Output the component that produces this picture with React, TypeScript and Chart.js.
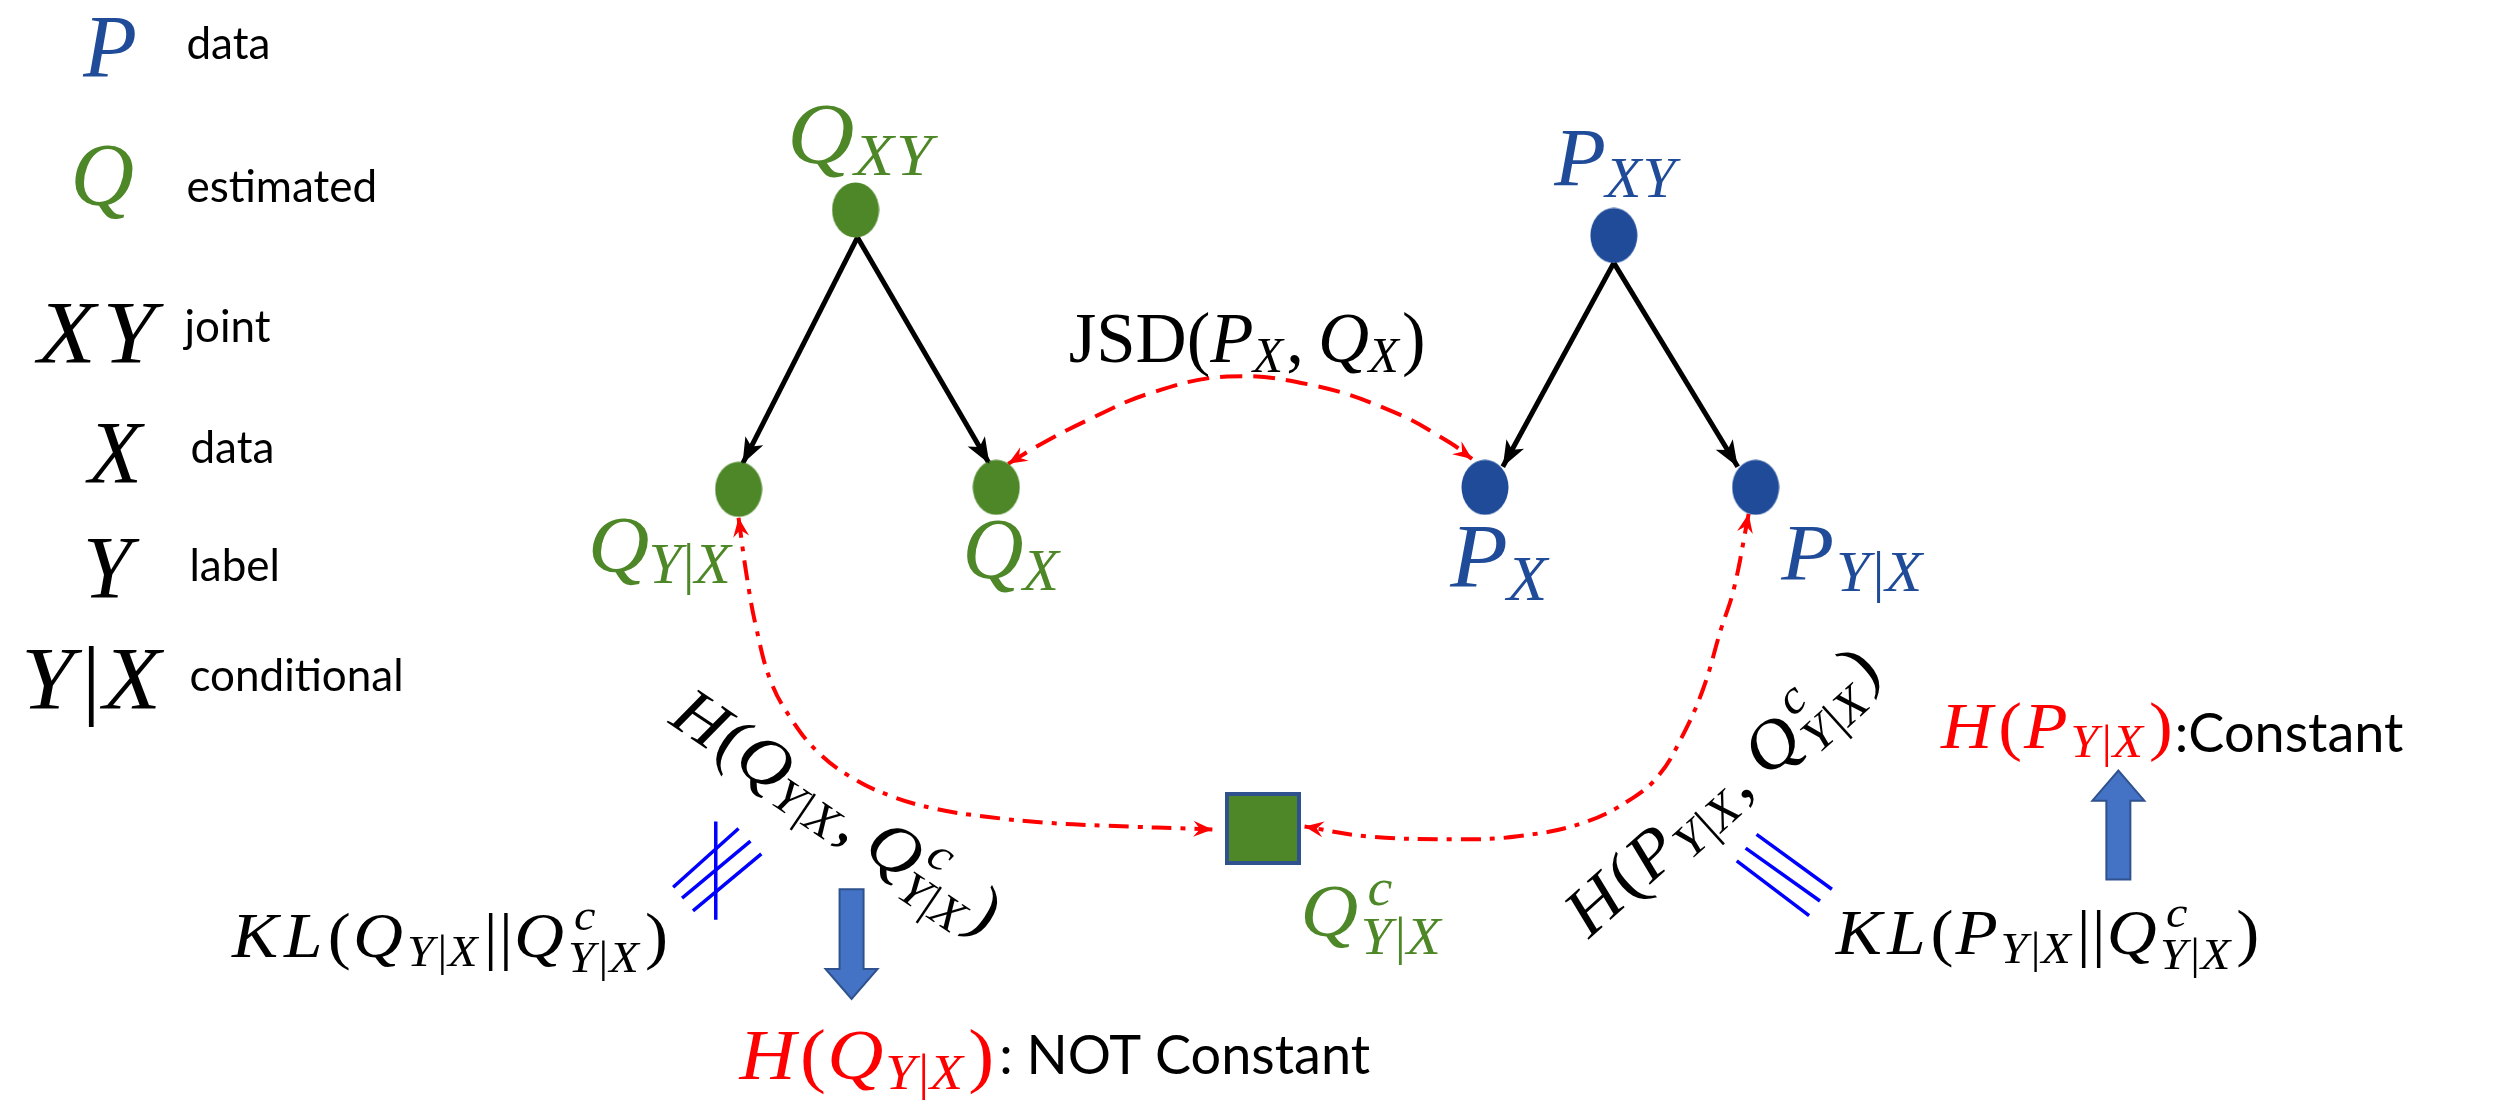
import React, { useEffect, useRef } from "react";
import { Chart, registerables } from "chart.js";

Chart.register(...registerables);

const CANVAS_W = 2509;
const CANVAS_H = 1110;

const GREEN = "#4E8727";
const BLUE = "#1F4B99";
const RED = "#FF0000";
const ARROW_FILL = "#4472C4";
const ARROW_EDGE = "#2F528F";

// ---- graph nodes (data coordinates of the diagram) ----
const nodeNames = ["Q_XY", "P_XY", "Q_Y|X", "Q_X", "P_X", "P_Y|X"];
const nodeX = [852, 1617, 734, 994, 1487, 1760];
const nodeY = [203, 229, 488, 486, 486, 486];
const nodeIsQ = [true, false, true, true, false, false];

const squareX = [1263];
const squareY = [834];

// ---- black arrows (parent -> child) ----
const edgeFromX = [854, 854, 1617, 1617];
const edgeFromY = [231, 231, 257, 257];
const edgeToX = [738, 987, 1505, 1742];
const edgeToY = [462, 462, 465, 465];

// ---- red curves ----
const jsdX = [1006, 1037, 1087, 1149, 1227, 1314, 1397, 1451, 1474];
const jsdY = [462, 443, 417, 390, 373, 382, 410, 440, 457];

const crossQX = [734, 742, 752, 767, 789, 815, 848, 888, 933, 984, 1043, 1100, 1212];
const crossQY = [517, 575, 630, 685, 725, 757, 782, 801, 814, 822, 828, 831, 835];

const crossPX = [1753, 1738, 1725, 1707, 1685, 1663, 1636, 1587, 1520, 1457, 1368, 1305];
const crossPY = [513, 590, 631, 692, 742, 779, 803, 828, 842, 845, 842, 832];

// ---- blue "not equal" / "equivalent" marks ----
const neqX1 = [711, 668, 677, 688];
const neqY1 = [827, 894, 905, 918];
const neqX2 = [711, 734, 746, 757];
const neqY2 = [927, 834, 847, 860];

const eqX1 = [1761, 1750, 1741];
const eqY1 = [840, 854, 867];
const eqX2 = [1837, 1825, 1814];
const eqY2 = [896, 908, 923];

// ---- block arrows ----
const blockX = [848, 2126];
const blockTail = [896, 886];
const blockTip = [1008, 775];

// ---- legend ----
const legendSymbols = ["P", "Q", "XY", "X", "Y", "Y|X"];
const legendSymbolColors = [BLUE, GREEN, "#000", "#000", "#000", "#000"];
const legendSymbolX = [101, 93, 27, 106, 98, 10];
const legendSymbolY = [66, 197, 358, 481, 598, 711];
const legendSymbolW = [0, 0, 125, 0, 0, 150];
const legendWords = ["data", "estimated", "joint", "data", "label", "conditional"];
const legendWordX = [177, 177, 175, 181, 180, 180];
const legendWordY = [49, 195, 338, 461, 582, 694];

// ---- math labels ----
const mathSrc = [
  "Q_{XY}", "P_{XY}", "Q_{Y|X}", "Q_X", "P_X", "P_{Y|X}", "Q^c_{Y|X}",
  "\\rm{JSD}(P_X, Q_X)",
  "H(Q_{Y|X}, Q^c_{Y|X})", "H(P_{Y|X}, Q^c_{Y|X})",
  "KL(Q_{Y|X}||Q^c_{Y|X})", "KL(P_{Y|X}||Q^c_{Y|X})",
  "H(Q_{Y|X})", "H(P_{Y|X})",
];
const mathX = [783, 1557, 582, 960, 1452, 1786, 1301, 1067, 662, 1592, 223, 1841, 735, 1947];
const mathY = [155, 178, 572, 578, 588, 580, 944, 358, 726, 947, 965, 962, 1090, 752];
const mathSize = [86, 82, 80, 86, 90, 80, 74, 72, 68, 68, 64, 64, 72, 66];
const mathW = [151, 126, 148, 101, 102, 148, 147, 360, 385, 400, 442, 429, 258, 236];
const mathAngle = [0, 0, 0, 0, 0, 0, 0, 0, 34, -42, 0, 0, 0, 0];
const mathColor = [GREEN, BLUE, GREEN, GREEN, BLUE, BLUE, GREEN, "#000", "#000", "#000", "#000", "#000", RED, RED];

const sansText = [": NOT Constant", ":Constant"];
const sansAfter = [12, 13]; // index of the math label it follows
const sansGap = [4, 0];
const sansY = [1084, 756];

type Glyph = { t: string; font: string; x: number; y: number };

const serif = (italic: boolean, size: number) =>
  `${italic ? "italic " : ""}${size}px "Liberation Serif"`;

function layoutMath(ctx: CanvasRenderingContext2D, src: string, F: number) {
  const glyphs: Glyph[] = [];
  let x = 0;
  let i = 0;
  let lastItalic = false;
  const readGroup = (): string => {
    if (src[i] === "{") {
      const j = src.indexOf("}", i);
      const g = src.slice(i + 1, j);
      i = j + 1;
      return g;
    }
    const c = src[i];
    i++;
    return c;
  };
  const run = (s: string, size: number, x0: number, y0: number) => {
    let xx = x0;
    for (const ch of s) {
      const it = /[A-Za-z]/.test(ch);
      const font = serif(it, size);
      ctx.font = font;
      glyphs.push({ t: ch, font, x: xx, y: y0 });
      xx += ctx.measureText(ch).width + (it ? 0.02 * size : 0);
    }
    return xx - x0;
  };
  while (i < src.length) {
    const c = src[i];
    if (c === "\\") {
      const j = src.indexOf("{", i);
      const k = src.indexOf("}", j);
      const txt = src.slice(j + 1, k);
      i = k + 1;
      const font = serif(false, F);
      ctx.font = font;
      glyphs.push({ t: txt, font, x, y: 0 });
      x += ctx.measureText(txt).width;
      lastItalic = false;
    } else if (c === "_" || c === "^") {
      let sub: string | null = null;
      let sup: string | null = null;
      while (i < src.length && (src[i] === "_" || src[i] === "^")) {
        const k = src[i];
        i++;
        const g = readGroup();
        if (k === "_") sub = g;
        else sup = g;
      }
      const s = 0.7 * F;
      let w = 0;
      if (sup) {
        const off = lastItalic ? 0.05 * F : 0.02 * F;
        w = Math.max(w, run(sup, s, x + off, -0.42 * F) + off);
      }
      if (sub) {
        const off = lastItalic ? -0.03 * F : 0;
        w = Math.max(w, run(sub, s, x + off, (sup ? 0.24 : 0.14) * F) + off);
      }
      x += w + 0.03 * F;
      lastItalic = false;
    } else if (c === " ") {
      x += 0.2 * F;
      i++;
    } else {
      i++;
      const it = /[A-Za-z]/.test(c);
      const font = serif(it, F);
      ctx.font = font;
      glyphs.push({ t: c, font, x, y: 0 });
      x += ctx.measureText(c).width + (it ? 0.02 * F : 0);
      lastItalic = it;
    }
  }
  return { glyphs, width: x };
}

function drawMath(
  ctx: CanvasRenderingContext2D,
  src: string,
  px: number,
  py: number,
  F: number,
  color: string,
  width: number,
  align: "left" | "center",
  angle: number
) {
  const { glyphs, width: nat } = layoutMath(ctx, src, F);
  const sx = width > 0 ? width / nat : 1;
  // glyph shapes are only mildly stretched; the rest goes into spacing
  const gs = sx > 1 ? Math.min(sx, 1.08) : sx;
  const w = nat * sx;
  ctx.save();
  ctx.translate(px, py);
  if (angle) ctx.rotate((angle * Math.PI) / 180);
  ctx.translate(align === "center" ? -w / 2 : 0, 0);
  ctx.fillStyle = color;
  ctx.textAlign = "left";
  ctx.textBaseline = "alphabetic";
  for (const g of glyphs) {
    ctx.save();
    ctx.translate(g.x * sx, g.y);
    ctx.scale(gs, 1);
    ctx.font = g.font;
    ctx.fillText(g.t, 0, 0);
    ctx.restore();
  }
  ctx.restore();
  return w;
}

function drawHead(
  ctx: CanvasRenderingContext2D,
  tx: number,
  ty: number,
  fx: number,
  fy: number,
  len: number,
  half: number,
  notch: number,
  color: string
) {
  const dx = tx - fx;
  const dy = ty - fy;
  const d = Math.hypot(dx, dy) || 1;
  const ux = dx / d;
  const uy = dy / d;
  const nx = -uy;
  const ny = ux;
  const bx = tx - ux * len;
  const by = ty - uy * len;
  ctx.save();
  ctx.fillStyle = color;
  ctx.beginPath();
  ctx.moveTo(tx, ty);
  ctx.lineTo(bx + nx * half, by + ny * half);
  ctx.lineTo(tx - ux * len * (1 - notch), ty - uy * len * (1 - notch));
  ctx.lineTo(bx - nx * half, by - ny * half);
  ctx.closePath();
  ctx.fill();
  ctx.restore();
}

function makeEllipse(color: string) {
  const c = document.createElement("canvas");
  c.width = 48;
  c.height = 56;
  const g = c.getContext("2d")!;
  g.fillStyle = color;
  g.beginPath();
  g.ellipse(24, 28, 23.5, 27.5, 0, 0, Math.PI * 2);
  g.fill();
  return c;
}

function makeSquare() {
  const c = document.createElement("canvas");
  c.width = 76;
  c.height = 73;
  const g = c.getContext("2d")!;
  g.fillStyle = GREEN;
  g.fillRect(0, 0, 76, 73);
  g.strokeStyle = ARROW_EDGE;
  g.lineWidth = 4;
  g.strokeRect(2, 2, 72, 69);
  return c;
}

const pts = (xs: number[], ys: number[]) => xs.map((x, i) => ({ x, y: ys[i] }));

const lineDs = (
  xs: number[],
  ys: number[],
  color: string,
  width: number,
  dash: number[] = [],
  tension = 0
) => ({
  data: pts(xs, ys),
  showLine: true,
  borderColor: color,
  backgroundColor: color,
  borderWidth: width,
  borderDash: dash,
  tension,
  pointRadius: 0,
  pointHoverRadius: 0,
  fill: false,
});

const diagramPlugin = {
  id: "diagram",
  afterDatasetsDraw(chart: any) {
    const ctx: CanvasRenderingContext2D = chart.ctx;
    const xs = chart.scales.x;
    const ys = chart.scales.y;
    const px = (v: number) => xs.getPixelForValue(v);
    const py = (v: number) => ys.getPixelForValue(v);
    const pw = (x: number, w: number) => px(x + w) - px(x);

    // block arrows
    blockX.forEach((bx, i) => {
      const x = px(bx);
      const tail = py(blockTail[i]);
      const tip = py(blockTip[i]);
      const dir = tip > tail ? 1 : -1;
      const headBase = tip - dir * 30;
      ctx.save();
      ctx.beginPath();
      ctx.moveTo(x - 12, tail);
      ctx.lineTo(x - 12, headBase);
      ctx.lineTo(x - 26, headBase);
      ctx.lineTo(x, tip);
      ctx.lineTo(x + 26, headBase);
      ctx.lineTo(x + 12, headBase);
      ctx.lineTo(x + 12, tail);
      ctx.closePath();
      ctx.fillStyle = ARROW_FILL;
      ctx.fill();
      ctx.strokeStyle = ARROW_EDGE;
      ctx.lineWidth = 2;
      ctx.stroke();
      ctx.restore();
    });

    // black arrow heads
    edgeToX.forEach((tx, i) => {
      drawHead(ctx, px(tx), py(edgeToY[i]), px(edgeFromX[i]), py(edgeFromY[i]), 26, 10, 0.25, "#000");
    });

    // red arrow heads at both ends of each curve
    const curves: [number[], number[]][] = [
      [jsdX, jsdY],
      [crossQX, crossQY],
      [crossPX, crossPY],
    ];
    curves.forEach(([cx, cy]) => {
      const n = cx.length;
      drawHead(ctx, px(cx[0]), py(cy[0]), px(cx[1]), py(cy[1]), 19, 8, 0.35, RED);
      drawHead(ctx, px(cx[n - 1]), py(cy[n - 1]), px(cx[n - 2]), py(cy[n - 2]), 19, 8, 0.35, RED);
    });

    // legend
    legendSymbols.forEach((s, i) => {
      drawMath(
        ctx,
        s,
        px(legendSymbolX[i]),
        py(legendSymbolY[i]),
        88,
        legendSymbolColors[i],
        legendSymbolW[i] ? pw(legendSymbolX[i], legendSymbolW[i]) : 0,
        legendSymbolW[i] ? "left" : "center",
        0
      );
    });
    ctx.save();
    ctx.fillStyle = "#000";
    ctx.font = "44px Lato";
    ctx.textBaseline = "alphabetic";
    ctx.textAlign = "left";
    legendWords.forEach((w, i) => ctx.fillText(w, px(legendWordX[i]), py(legendWordY[i])));
    ctx.restore();

    // math labels
    const ends: number[] = [];
    mathSrc.forEach((s, i) => {
      const w = drawMath(
        ctx,
        s,
        px(mathX[i]),
        py(mathY[i]),
        mathSize[i],
        mathColor[i],
        pw(mathX[i], mathW[i]),
        "left",
        mathAngle[i]
      );
      ends[i] = px(mathX[i]) + w;
    });

    // sans suffixes
    ctx.save();
    ctx.fillStyle = "#000";
    ctx.font = "54px Lato";
    ctx.textBaseline = "alphabetic";
    ctx.textAlign = "left";
    sansText.forEach((t, i) => ctx.fillText(t, ends[sansAfter[i]] + sansGap[i], py(sansY[i])));
    ctx.restore();
  },
};

export default function App() {
  const ref = useRef<HTMLCanvasElement>(null);
  useEffect(() => {
    document.body.style.margin = "0";
    document.body.style.overflow = "hidden";
    const canvas = ref.current!;
    const nodeImgs = nodeNames.map((_, i) => makeEllipse(nodeIsQ[i] ? GREEN : BLUE));
    const sq = makeSquare();

    const chart = new Chart(canvas, {
      type: "scatter",
      data: {
        datasets: [
          {
            label: "nodes",
            data: pts(nodeX, nodeY),
            pointStyle: nodeImgs as any,
            pointRadius: 10,
          } as any,
          {
            label: "square",
            data: pts(squareX, squareY),
            pointStyle: sq as any,
            pointRadius: 10,
          } as any,
          ...edgeToX.map((_, i) =>
            lineDs([edgeFromX[i], edgeToX[i]], [edgeFromY[i], edgeToY[i]], "#000", 5)
          ),
          lineDs(jsdX, jsdY, RED, 4, [22, 11], 0.4),
          lineDs(crossQX, crossQY, RED, 4, [20, 9, 5, 9], 0.4),
          lineDs(crossPX, crossPY, RED, 4, [20, 9, 5, 9], 0.4),
          ...neqX1.map((_, i) => lineDs([neqX1[i], neqX2[i]], [neqY1[i], neqY2[i]], "#0000FF", 3.5)),
          ...eqX1.map((_, i) => lineDs([eqX1[i], eqX2[i]], [eqY1[i], eqY2[i]], "#0000FF", 3.5)),
        ] as any,
      },
      options: {
        animation: false,
        responsive: true,
        maintainAspectRatio: false,
        events: [],
        layout: { padding: 0 },
        plugins: { legend: { display: false }, tooltip: { enabled: false } },
        scales: {
          x: { type: "linear", min: 0, max: CANVAS_W, display: false },
          y: { type: "linear", min: 0, max: CANVAS_H, reverse: true, display: false },
        },
      },
      plugins: [diagramPlugin],
    });
    return () => chart.destroy();
  }, []);

  return (
    <div style={{ width: CANVAS_W, height: CANVAS_H, position: "relative", background: "#fff" }}>
      <canvas ref={ref} />
    </div>
  );
}
